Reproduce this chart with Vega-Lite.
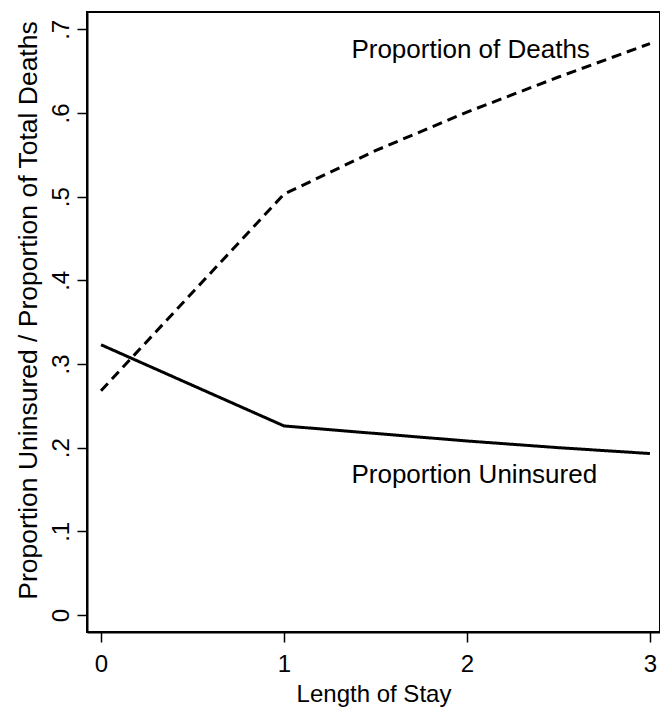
{
  "$schema": "https://vega.github.io/schema/vega-lite/v6.json",
  "width": 573,
  "height": 620,
  "autosize": {"type": "none"},
  "padding": {"left": 87, "top": 12, "right": 0, "bottom": 81},
  "background": "white",
  "config": {
    "view": {"stroke": "black", "strokeWidth": 2},
    "font": "Liberation Sans",
    "axis": {
      "grid": false,
      "domainColor": "black",
      "domainWidth": 2,
      "tickColor": "black",
      "tickWidth": 1.5,
      "tickSize": 10,
      "labelColor": "black",
      "titleColor": "black",
      "labelFont": "Liberation Sans",
      "titleFont": "Liberation Sans",
      "labelFontSize": 24,
      "titleFontSize": 24,
      "titleFontWeight": "normal"
    }
  },
  "datasets": {
    "lines": [
      {"los": 0, "value": 0.268, "series": "Proportion of Deaths"},
      {"los": 1, "value": 0.503, "series": "Proportion of Deaths"},
      {"los": 1.5, "value": 0.555, "series": "Proportion of Deaths"},
      {"los": 2, "value": 0.601, "series": "Proportion of Deaths"},
      {"los": 2.5, "value": 0.643, "series": "Proportion of Deaths"},
      {"los": 3, "value": 0.683, "series": "Proportion of Deaths"},
      {"los": 0, "value": 0.323, "series": "Proportion Uninsured"},
      {"los": 1, "value": 0.226, "series": "Proportion Uninsured"},
      {"los": 1.5, "value": 0.217, "series": "Proportion Uninsured"},
      {"los": 2, "value": 0.208, "series": "Proportion Uninsured"},
      {"los": 2.5, "value": 0.200, "series": "Proportion Uninsured"},
      {"los": 3, "value": 0.193, "series": "Proportion Uninsured"}
    ],
    "labels": [
      {"los": 2.02, "value": 0.6657, "label": "Proportion of Deaths"},
      {"los": 2.04, "value": 0.1578, "label": "Proportion Uninsured"}
    ]
  },
  "layer": [
    {
      "data": {"name": "lines"},
      "mark": {"type": "line", "strokeWidth": 3, "color": "black", "clip": true},
      "encoding": {
        "x": {
          "field": "los", "type": "quantitative",
          "scale": {"domain": [-0.0765, 3.055], "nice": false, "zero": false},
          "axis": {"values": [0, 1, 2, 3], "format": "d", "title": "Length of Stay", "labelPadding": 10, "titlePadding": 6, "labelFlush": false}
        },
        "y": {
          "field": "value", "type": "quantitative",
          "scale": {"domain": [-0.0203, 0.7207], "nice": false, "zero": false},
          "axis": {
            "values": [0, 0.1, 0.2, 0.3, 0.4, 0.5, 0.6, 0.7],
            "labelExpr": "datum.value == 0 ? '0' : replace(format(datum.value, '.1f'), '0.', '.')",
            "labelAngle": -90,
            "labelAlign": "center",
            "labelBaseline": "alphabetic",
            "labelPadding": 9,
            "labelFlush": false,
            "title": "Proportion Uninsured / Proportion of Total Deaths",
            "titleFontSize": 26.5,
            "titleY": 298,
            "titlePadding": 7
          }
        },
        "strokeDash": {
          "field": "series", "type": "nominal",
          "scale": {"domain": ["Proportion of Deaths", "Proportion Uninsured"], "range": [[10, 6], [1, 0]]},
          "legend": null
        },
        "detail": {"field": "series"}
      }
    },
    {
      "data": {"name": "labels"},
      "mark": {"type": "text", "fontSize": 26, "color": "black", "align": "center", "baseline": "alphabetic", "font": "Liberation Sans"},
      "encoding": {
        "x": {"field": "los", "type": "quantitative"},
        "y": {"field": "value", "type": "quantitative"},
        "text": {"field": "label"}
      }
    }
  ]
}
